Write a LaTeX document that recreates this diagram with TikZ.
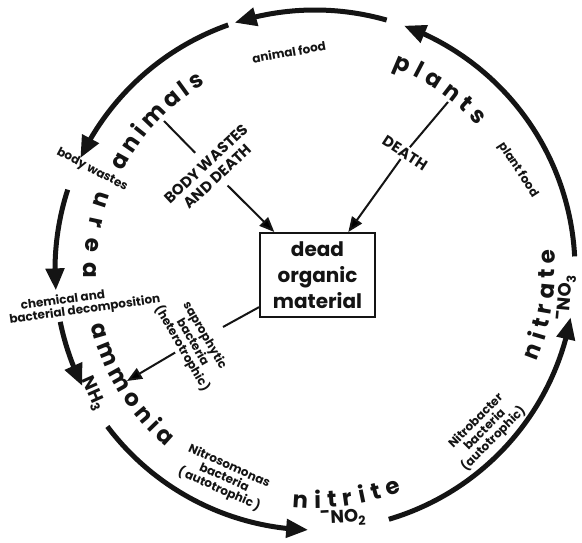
\documentclass[tikz,border=0pt]{standalone}
\usepackage{fontspec}
\setmainfont{Poppins}
\usepackage{xcolor}
\usetikzlibrary{positioning,arrows.meta,calc,bending,decorations.text}
\definecolor{Ink}{HTML}{141414}
\newcommand{\bigfont}{\fontsize{23}{25}\selectfont\bfseries}
\newcommand{\boxfont}{\fontsize{20}{26}\selectfont\bfseries}
\newcommand{\tagfont}{\fontsize{12}{12.5}\selectfont\bfseries}
\newcommand{\capfont}{\fontsize{15}{17}\selectfont\bfseries}
\newcommand{\chemfont}{\fontsize{18}{20}\selectfont\bfseries}
\newcommand{\cyclearc}[2]{\draw[cyclearrow] ($(C)+(#1:260)$) arc[start angle=#1,end angle=#2,radius=260];}
\newcommand{\arcname}[4]{\path[decorate,decoration={text along path,text align=fit to path,text color=Ink,text={|\bigfont|#4}}] ($(C)+(#2:#1)$) arc[start angle=#2,end angle=#3,radius=#1];}

\begin{document}
\begin{tikzpicture}[x=1pt,y=1pt,
  cyclearrow/.style={draw=Ink,line width=5pt,-{Triangle[length=22pt,width=18pt]}},
  inline/.style={draw=Ink,line width=2pt},
  inarrow/.style={inline,-{Triangle[length=15pt,width=12pt]}},
  tag/.style={font=\tagfont,text=Ink,align=center,inner sep=1pt},
  caps/.style={font=\capfont,text=Ink,align=center,inner sep=2pt},
  chem/.style={font=\chemfont,text=Ink,inner sep=1pt}]
  \useasboundingbox (0,0) rectangle (582,542);
  \fill[white] (0,0) rectangle (582,542);
  \coordinate (C) at (315,272);
  % the cycle round the outside
  \cyclearc{3}{70}
  \cyclearc{74}{108}
  \cyclearc{109.5}{154.5}
  \cyclearc{162}{184.5}
  \cyclearc{191.5}{206.5}
  \cyclearc{217}{268.5}
  \cyclearc{286.5}{349.5}
  % names along the ring
  \arcname{217}{69}{41.5}{plants}
  \arcname{216}{153}{120.5}{animals}
  \arcname{231}{160}{182}{urea}
  \arcname{231}{194}{230}{ammonia}
  \arcname{238}{264.5}{291.5}{nitrite}
  \arcname{240}{337.5}{365}{nitrate}
  \node[chem,rotate=-66] (nh) at (93,148) {NH\textsubscript{3}};
  \node[chem,rotate=3] (no2) at (343,24) {\raisebox{.55ex}{-}NO\textsubscript{2}};
  \node[chem,rotate=85] (no3) at (566,244) {\raisebox{.55ex}{-}NO\textsubscript{3}};
  % small labels
  \node[tag,rotate=10] (afood) at (289,490) {animal food};
  \node[tag,rotate=-57] (pfood) at (518,372) {plant food};
  \node[tag,rotate=-28] (bwaste) at (92,372) {body wastes};
  \node[tag,rotate=8,align=left] (decomp) at (84,238) {\hspace*{1.1em}chemical and\\bacterial decomposition};
  \node[tag,rotate=-60] (sap) at (193,200) {saprophytic\\bacteria\\(heterotrophic)};
  \node[tag,rotate=-24] (nitroso) at (224,64) {Nitrosomonas\\bacteria\\(\,autotrophic\,)};
  \node[tag,rotate=45] (nitrob) at (485,112) {Nitrobacter\\bacteria\\(autotrophic)};
  % centre
  \node[draw=Ink,line width=2pt,minimum width=115pt,minimum height=84pt,font=\boxfont,text=Ink,align=center,inner sep=2pt] (box) at (317.5,267) {dead\\organic\\material};
  \node[caps,rotate=43] (bw) at (212,372) {BODY WASTES\\AND DEATH};
  \node[caps,rotate=-33] (death) at (405,389) {DEATH};
  \coordinate (animalsfoot) at (164,421);
  \coordinate (plantsfoot) at (448,440);
  \coordinate (sapfoot) at (223,215);
  \coordinate (ammtip) at (127,161);
  \draw[inline,shorten <=8pt] (bw) -- (animalsfoot);
  \draw[inarrow,shorten <=6pt] (bw) -- (box);
  \draw[inline] (death) -- (plantsfoot);
  \draw[inarrow] (death) -- (box);
  \draw[inline] (box) -- (sapfoot);
  \draw[inarrow] (sap) -- (ammtip);
\end{tikzpicture}
\end{document}
